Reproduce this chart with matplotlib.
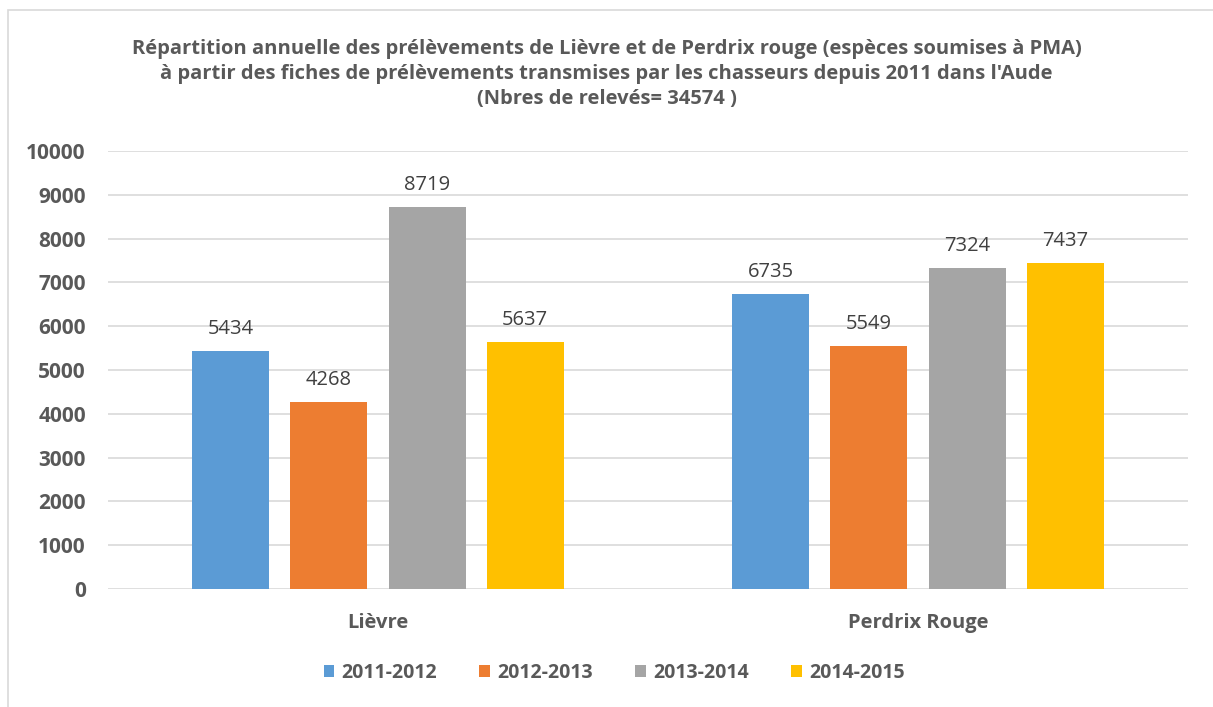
import numpy as np
import matplotlib.pyplot as plt
from matplotlib.patches import Rectangle

plt.rcParams['font.family'] = ['Open Sans', 'DejaVu Sans']

categories = ['Lièvre', 'Perdrix Rouge']
seasons = ['2011-2012', '2012-2013', '2013-2014', '2014-2015']
values = {
    '2011-2012': [5434, 6735],
    '2012-2013': [4268, 5549],
    '2013-2014': [8719, 7324],
    '2014-2015': [5637, 7437],
}
colors = ['#5B9BD5', '#ED7D31', '#A5A5A5', '#FFC000']
title = ("Répartition annuelle des prélèvements de Lièvre et de Perdrix rouge (espèces soumises à PMA)\n"
         "à partir des fiches de prélèvements transmises par les chasseurs depuis 2011 dans l'Aude\n"
         "(Nbres de relevés= 34574 )")

txt = '#595959'
fig = plt.figure(figsize=(12.13, 7.07), dpi=100)
fig.patches.append(Rectangle((8 / 1213, -0.1), 1.2, 1 - 10 / 707 + 0.1,
                             transform=fig.transFigure, fill=False,
                             edgecolor='#D9D9D9', linewidth=1.2))
ax = fig.add_axes([108 / 1213, 1 - 589 / 707, 1080 / 1213, 438 / 707])

x = np.arange(len(categories))
width = 0.1426
step = 0.1815
for i, (s, c) in enumerate(zip(seasons, colors)):
    pos = x + (i - 1.5) * step
    bars = ax.bar(pos, values[s], width, color=c, label=s, zorder=3)
    for b, v in zip(bars, values[s]):
        ax.text(b.get_x() + b.get_width() / 2, v + 280, str(v), ha='center',
                va='bottom', fontsize=14.5, color='#404040')

ax.set_xlim(-0.5, 1.5)
ax.set_ylim(0, 10000)
ax.set_yticks(range(0, 10001, 1000))
ax.yaxis.grid(True, color='#D9D9D9', linewidth=1.2, zorder=0)
ax.set_xticks(x)
ax.set_xticklabels(categories, fontsize=14.5, fontweight='bold', color=txt)
ax.tick_params(axis='x', length=0, pad=17)
ax.tick_params(axis='y', length=0, pad=16, labelcolor=txt, labelsize=15)
for lab in ax.get_yticklabels():
    lab.set_fontweight('bold')
for sp in ax.spines.values():
    sp.set_visible(False)

fig.text(0.5, 1 - 74 / 707, title, ha='center', va='center', fontsize=14.5,
         fontweight='bold', color=txt, linespacing=1.36)

leg = fig.legend(loc='center', bbox_to_anchor=(614 / 1213, 1 - 673 / 707), ncol=4,
                 frameon=False, handlelength=0.55, handleheight=0.55,
                 columnspacing=2.2, handletextpad=0.35,
                 prop={'weight': 'bold', 'size': 14})
for t in leg.get_texts():
    t.set_color(txt)

fig.savefig('out.png', dpi=100)
